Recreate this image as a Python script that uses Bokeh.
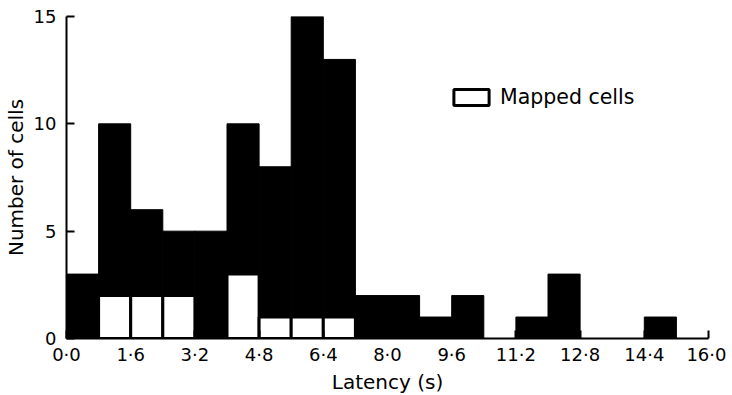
from bokeh.plotting import figure
from bokeh.models import FixedTicker, Range1d, Legend, LegendItem
from bokeh.embed import file_html
from bokeh.resources import INLINE

# Histogram bins (latency, s) — bin width 0.8 s
bin_edges = [0.0, 0.8, 1.6, 2.4, 3.2, 4.0, 4.8, 5.6, 6.4, 7.2, 8.0, 8.8,
             9.6, 10.4, 11.2, 12.0, 12.8, 13.6, 14.4, 15.2]
all_counts = [3, 10, 6, 5, 5, 10, 8, 15, 13, 2, 2, 1, 2, 0, 1, 3, 0, 0, 1]

# Mapped cells (subset), by bin
mapped_left = [0.8, 1.6, 2.4, 4.0, 4.8, 5.6, 6.4]
mapped_right = [1.6, 2.4, 3.2, 4.8, 5.6, 6.4, 7.2]
mapped_counts = [2, 2, 2, 3, 1, 1, 1]

x_ticks = [0.0, 1.6, 3.2, 4.8, 6.4, 8.0, 9.6, 11.2, 12.8, 14.4, 16.0]
x_tick_labels = ["0·0", "1·6", "3·2", "4·8", "6·4", "8·0", "9·6",
                 "11·2", "12·8", "14·4", "16·0"]
y_ticks = [0, 5, 10, 15]

FONT = "DejaVu Sans"

p = figure(frame_width=642, frame_height=322,
           x_range=Range1d(0, 16), y_range=Range1d(0, 15),
           output_backend="svg", toolbar_location=None,
           min_border_left=40, min_border_right=18,
           min_border_top=16, min_border_bottom=40)
p.outline_line_color = None
p.grid.visible = False
p.background_fill_color = "white"
p.border_fill_color = "white"

p.quad(left=bin_edges[:-1], right=bin_edges[1:], top=all_counts, bottom=0,
       fill_color="black", line_color="black", line_width=1)
mapped = p.quad(left=mapped_left, right=mapped_right, top=mapped_counts, bottom=0,
                fill_color="white", line_color="black", line_width=3)

legend = Legend(items=[LegendItem(label="Mapped cells", renderers=[mapped])],
                location=(383, 229), padding=0, margin=0, spacing=0,
                border_line_color=None, background_fill_alpha=0,
                glyph_width=44, glyph_height=20, label_height=20,
                label_standoff=7, label_text_font=FONT,
                label_text_font_size="20.5px", label_text_color="black")
p.add_layout(legend)

xa = p.xaxis[0]
xa.ticker = FixedTicker(ticks=x_ticks)
xa.major_label_overrides = {t: s for t, s in zip(x_ticks, x_tick_labels)}
xa.axis_label = "Latency (s)"

ya = p.yaxis[0]
ya.ticker = FixedTicker(ticks=y_ticks)
ya.axis_label = "Number of cells"

for ax in (xa, ya):
    ax.axis_line_width = 2
    ax.axis_line_color = "black"
    ax.major_tick_line_width = 2
    ax.major_tick_line_color = "black"
    ax.major_tick_in = 8
    ax.major_tick_out = 0
    ax.minor_tick_line_color = None
    ax.major_label_text_font = FONT
    ax.major_label_text_font_size = "18px"
    ax.major_label_text_color = "black"
    ax.axis_label_text_font = FONT
    ax.axis_label_text_font_size = "20px"
    ax.axis_label_text_font_style = "normal"
    ax.axis_label_text_color = "black"

xa.major_label_standoff = 5
xa.axis_label_standoff = 2
ya.major_label_standoff = 10
ya.axis_label_standoff = 3

open("out.html", "w").write(file_html(p, INLINE))
